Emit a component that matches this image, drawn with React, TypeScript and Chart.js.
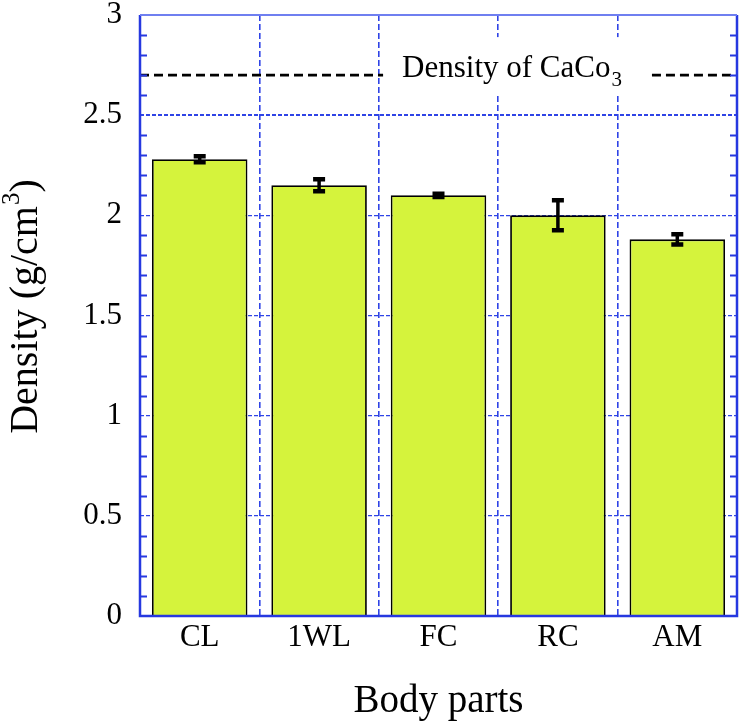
import React, { useEffect, useRef } from 'react';
import { Chart, registerables } from 'chart.js';

Chart.register(...registerables);

const categories = ['CL', '1WL', 'FC', 'RC', 'AM'];
const densityValues = [2.28, 2.15, 2.1, 2.0, 1.88];
const densityErrors = [0.015, 0.03, 0.008, 0.075, 0.025];
const referenceValues = [2.7];
const referenceLabel = 'Density of CaCo';
const referenceSub = '3';
const yRange = [0, 3];
const yMajorStep = 0.5;
const yMinorStep = 0.1;
const xTitle = 'Body parts';
const yTitleMain = 'Density (g/cm';
const yTitleSup = '3';
const yTitleEnd = ')';

const SERIF = '"Liberation Serif", "Times New Roman", serif';
const AXIS_BLUE = '#2638e0';
const GRID_BLUE = '#2f44e6';
const BAR_FILL = '#d5f33c';

const decorPlugin = {
  id: 'decor',
  afterDatasetsDraw(chart: any) {
    const ctx = chart.ctx;
    const ys = chart.scales.y;
    const ca = chart.chartArea;
    const meta = chart.getDatasetMeta(0);

    // error bars
    ctx.save();
    ctx.strokeStyle = '#000';
    meta.data.forEach((bar: any, i: number) => {
      const x = bar.x;
      const top = ys.getPixelForValue(densityValues[i] + densityErrors[i]);
      const bot = ys.getPixelForValue(densityValues[i] - densityErrors[i]);
      ctx.lineWidth = 3.5;
      ctx.beginPath();
      ctx.moveTo(x, top);
      ctx.lineTo(x, bot);
      ctx.stroke();
      ctx.lineWidth = 4.5;
      ctx.beginPath();
      ctx.moveTo(x - 6, top);
      ctx.lineTo(x + 6, top);
      ctx.moveTo(x - 6, bot);
      ctx.lineTo(x + 6, bot);
      ctx.stroke();
    });
    ctx.restore();

    // reference line with label
    referenceValues.forEach((v) => {
      const y = ys.getPixelForValue(v);
      ctx.save();
      ctx.font = `31px ${SERIF}`;
      const mainW = ctx.measureText(referenceLabel).width;
      ctx.font = `21px ${SERIF}`;
      const subW = ctx.measureText(referenceSub).width;
      const textLeft = ca.left + 0.439 * (ca.right - ca.left);
      const textRight = textLeft + mainW + subW + 1;
      ctx.fillStyle = '#fff';
      ctx.fillRect(textLeft - 13, y - 38, textRight - textLeft + 36, 58);
      ctx.strokeStyle = '#000';
      ctx.lineWidth = 2.8;
      ctx.setLineDash([9, 5]);
      ctx.beginPath();
      ctx.moveTo(ca.left, y);
      ctx.lineTo(textLeft - 19, y);
      ctx.moveTo(textRight + 30, y);
      ctx.lineTo(ca.right, y);
      ctx.stroke();
      ctx.setLineDash([]);
      ctx.fillStyle = '#000';
      ctx.textAlign = 'left';
      ctx.textBaseline = 'alphabetic';
      ctx.font = `31px ${SERIF}`;
      ctx.fillText(referenceLabel, textLeft, y + 2);
      ctx.font = `21px ${SERIF}`;
      ctx.fillText(referenceSub, textLeft + mainW + 1, y + 11);
      ctx.restore();
    });

    // minor ticks on left and right axes
    ctx.save();
    ctx.strokeStyle = AXIS_BLUE;
    ctx.lineWidth = 2;
    const n = Math.round((yRange[1] - yRange[0]) / yMinorStep);
    const perMajor = Math.round(yMajorStep / yMinorStep);
    for (let k = 1; k < n; k++) {
      if (k % perMajor === 0) continue;
      const py = Math.round(ys.getPixelForValue(yRange[0] + k * yMinorStep)) + 0.5;
      ctx.beginPath();
      ctx.moveTo(ca.left, py);
      ctx.lineTo(ca.left + 7, py);
      ctx.moveTo(ca.right, py);
      ctx.lineTo(ca.right - 7, py);
      ctx.stroke();
    }
    ctx.restore();

    // frame
    ctx.save();
    ctx.strokeStyle = AXIS_BLUE;
    ctx.lineWidth = 2.5;
    ctx.beginPath();
    ctx.moveTo(ca.left, ca.top);
    ctx.lineTo(ca.left, ca.bottom);
    ctx.lineTo(ca.right, ca.bottom);
    ctx.lineTo(ca.right, ca.top);
    ctx.stroke();
    ctx.strokeStyle = '#6f7ff0';
    ctx.lineWidth = 2;
    ctx.beginPath();
    ctx.moveTo(ca.left, ca.top);
    ctx.lineTo(ca.right, ca.top);
    ctx.stroke();
    ctx.restore();

    // axis titles
    ctx.save();
    ctx.fillStyle = '#000';
    ctx.textBaseline = 'alphabetic';
    ctx.textAlign = 'center';
    ctx.font = `39px ${SERIF}`;
    ctx.fillText(xTitle, (ca.left + ca.right) / 2, ca.bottom + 96);

    ctx.font = `40px ${SERIF}`;
    const w1 = ctx.measureText(yTitleMain).width;
    const w3 = ctx.measureText(yTitleEnd).width;
    ctx.font = `25px ${SERIF}`;
    const w2 = ctx.measureText(yTitleSup).width;
    const total = w1 + w2 + w3 + 1;
    const cy = (ca.top + ca.bottom) / 2 - 9;
    ctx.translate(37, cy);
    ctx.rotate(-Math.PI / 2);
    ctx.textAlign = 'left';
    const x0 = -total / 2;
    ctx.font = `40px ${SERIF}`;
    ctx.fillText(yTitleMain, x0, 0);
    ctx.font = `25px ${SERIF}`;
    ctx.fillText(yTitleSup, x0 + w1 + 1, -18);
    ctx.font = `40px ${SERIF}`;
    ctx.fillText(yTitleEnd, x0 + w1 + w2 + 1, 0);
    ctx.restore();
  },
};

export default function App() {
  const canvasRef = useRef<HTMLCanvasElement | null>(null);

  useEffect(() => {
    const canvas = canvasRef.current;
    if (!canvas) return;
    const chart = new Chart(canvas, {
      type: 'bar',
      data: {
        labels: categories,
        datasets: [
          {
            data: densityValues,
            backgroundColor: BAR_FILL,
            borderColor: '#000',
            borderWidth: 1.8,
            barPercentage: 0.8,
            categoryPercentage: 1,
          },
        ],
      },
      options: {
        responsive: false,
        animation: false,
        devicePixelRatio: 1,
        layout: { padding: { top: 15, right: 5, left: 0, bottom: 0 } },
        plugins: { legend: { display: false }, tooltip: { enabled: false } },
        scales: {
          x: {
            offset: true,
            grid: {
              offset: true,
              color: GRID_BLUE,
              lineWidth: 1.6,
              drawTicks: false,
            },
            border: { display: false, dash: [6, 3] },
            ticks: {
              color: '#000',
              padding: 3,
              font: { family: SERIF, size: 31 },
            },
            afterFit: (s: any) => {
              s.height = 108;
              s.paddingLeft = 0;
              s.paddingRight = 0;
            },
          },
          y: {
            min: yRange[0],
            max: yRange[1],
            grid: {
              color: GRID_BLUE,
              lineWidth: (c: any) => (c.tick && Math.abs(c.tick.value - 2.5) < 1e-6 ? 2 : 1.2),
              drawTicks: false,
            },
            border: { display: false, dash: [4, 2] },
            ticks: {
              stepSize: yMajorStep,
              color: '#000',
              padding: 18,
              font: { family: SERIF, size: 31 },
              callback: (v: any) => String(Number(v)),
            },
            afterFit: (s: any) => {
              s.width = 140;
              s.paddingTop = 0;
              s.paddingBottom = 0;
            },
          },
        },
      },
      plugins: [decorPlugin],
    } as any);
    return () => chart.destroy();
  }, []);

  return (
    <div style={{ position: 'fixed', left: 0, top: 0, width: 742, height: 724, background: '#fff' }}>
      <canvas ref={canvasRef} width={742} height={724} />
    </div>
  );
}
